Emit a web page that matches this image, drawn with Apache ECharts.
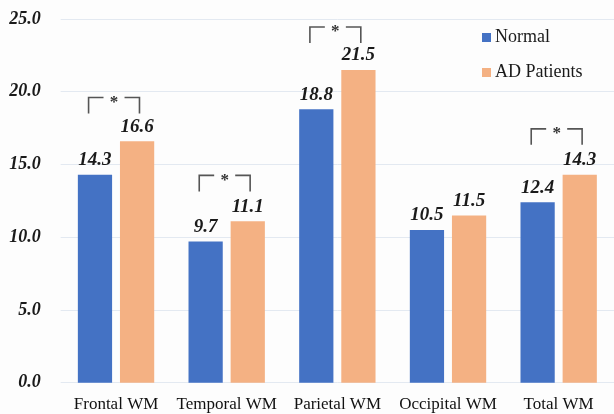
<!DOCTYPE html>
<html>
<head>
<meta charset="utf-8">
<script src="https://cdn.jsdelivr.net/npm/echarts@6/dist/echarts.min.js"></script>
<style>html,body{margin:0;padding:0;background:#fdfdfd;}#c{width:614px;height:414px;}
#warm{position:absolute;left:-1000px;top:0;font-family:"Liberation Serif";font-size:18px;}
#warm b i{font-family:"Liberation Serif";}</style>
</head>
<body>
<div id="warm">Normal AD Patients <b><i>12.3</i></b> <b>*</b></div>
<div id="c"></div>
<script>
const categories = ['Frontal WM', 'Temporal WM', 'Parietal WM', 'Occipital WM', 'Total WM'];
const seriesNames = ['Normal', 'AD Patients'];
const normalValues = [14.3, 9.7, 18.8, 10.5, 12.4];
const adValues = [16.6, 11.1, 21.5, 11.5, 14.3];
const bracketLevels = [19.6, 14.25, 24.45, null, 17.45];
const yTicks = [0, 5, 10, 15, 20, 25];

const colors = ['#4472C4', '#F4B183'];
const serif = '"Liberation Serif", "Times New Roman", serif';
const bracketData = [];
bracketLevels.forEach((v, i) => { if (v !== null) bracketData.push([i, v]); });

function buildOption() {
  const labelStyle = {
    show: true, position: 'top', distance: 5,
    fontFamily: serif, fontWeight: 'bold', fontStyle: 'italic', fontSize: 19, color: '#1a1a1a',
    formatter: p => p.value.toFixed(1)
  };
  const legendGraphics = [];
  seriesNames.forEach((n, i) => {
    const cy = 37.5 + i * 35;
    legendGraphics.push({type: 'rect', x: 482, y: cy - 4.5, shape: {x: 0, y: 0, width: 9, height: 9}, style: {fill: colors[i]}});
    legendGraphics.push({type: 'text', x: 495, y: cy, style: {text: n, fontFamily: serif, fontSize: 18, fill: '#1a1a1a', verticalAlign: 'middle'}});
  });
  return {
    backgroundColor: '#fdfdfd',
    animation: false,
    textStyle: {fontFamily: serif},
    grid: {left: 60.7, right: -2.8, top: 19, bottom: 31.3, containLabel: false},
    legend: {show: false, data: seriesNames},
    graphic: legendGraphics,
    xAxis: {
      type: 'category', data: categories,
      axisLine: {show: false}, axisTick: {show: false},
      axisLabel: {fontFamily: serif, fontSize: 17, color: '#111', margin: 13, interval: 0}
    },
    yAxis: {
      type: 'value', min: yTicks[0], max: yTicks[yTicks.length - 1], interval: 5,
      axisLine: {show: false}, axisTick: {show: false},
      splitLine: {lineStyle: {color: '#e3e9f1', width: 1}},
      axisLabel: {fontFamily: serif, fontWeight: 'bold', fontStyle: 'italic', fontSize: 18, color: '#1a1a1a', margin: 20,
        formatter: v => v.toFixed(1)}
    },
    series: [
      {name: seriesNames[0], type: 'bar', data: normalValues, barGap: '23%', barCategoryGap: '31%',
        itemStyle: {color: colors[0]}, label: labelStyle},
      {name: seriesNames[1], type: 'bar', data: adValues,
        itemStyle: {color: colors[1]}, label: labelStyle},
      {name: 'sig', type: 'custom', data: bracketData, z: 5, silent: true,
        renderItem: function (params, api) {
          const idx = api.value(0), v = api.value(1);
          const top = api.coord([idx, v]);
          const bot = api.coord([idx, v - 1.1]);
          const bw = api.size([1, 0])[0];
          const cx = top[0] - 2;
          const half = bw * 0.23;
          const seg = bw * 0.135;
          const ls = {stroke: '#555', lineWidth: 1.6, fill: null};
          return {type: 'group', children: [
            {type: 'polyline', shape: {points: [[cx - half, bot[1]], [cx - half, top[1]], [cx - half + seg, top[1]]]}, style: ls},
            {type: 'polyline', shape: {points: [[cx + half - seg, top[1]], [cx + half, top[1]], [cx + half, bot[1]]]}, style: ls},
            {type: 'text', x: cx, y: top[1] + 5, style: {text: '*', fontFamily: serif, fontSize: 17, fontWeight: 'bold', fill: '#333', align: 'center', verticalAlign: 'middle'}}
          ]};
        }
      }
    ]
  };
}

const chart = echarts.init(document.getElementById('c'), null, {renderer: 'canvas'});
chart.setOption(buildOption());
function rerender() { chart.clear(); chart.setOption(buildOption(), true); }
if (document.fonts && document.fonts.load) {
  Promise.all([
    document.fonts.load('18px "Liberation Serif"'),
    document.fonts.load('bold italic 18px "Liberation Serif"'),
    document.fonts.load('bold 18px "Liberation Serif"')
  ]).then(rerender, rerender);
}
setTimeout(rerender, 150);
</script>
</body>
</html>
